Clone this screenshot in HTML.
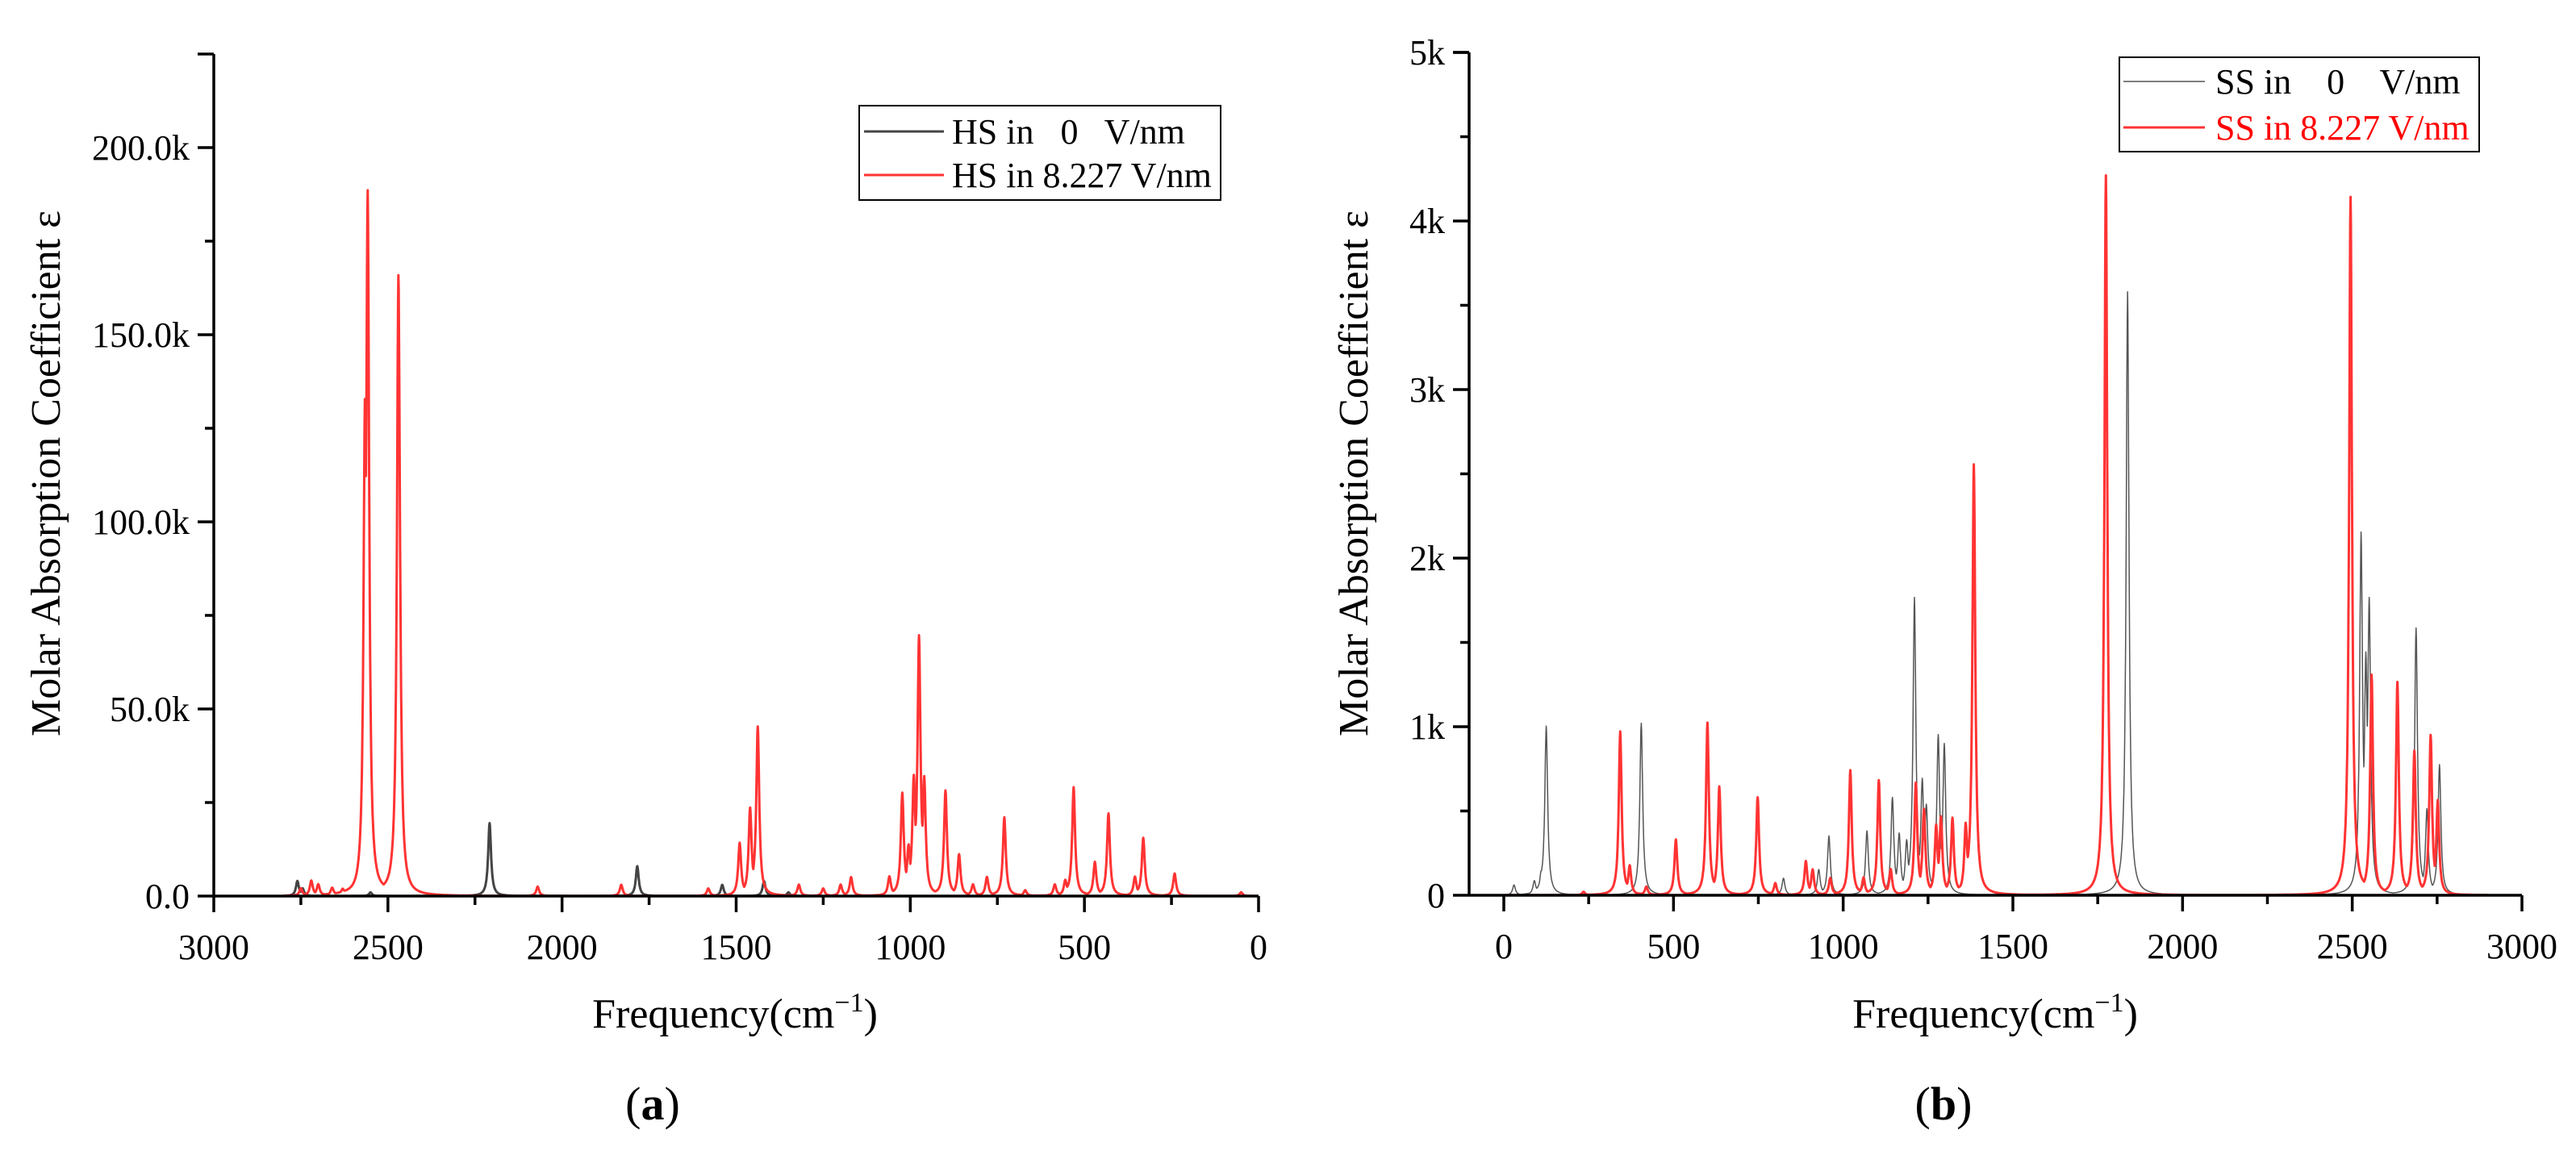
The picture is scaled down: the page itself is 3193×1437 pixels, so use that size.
<!DOCTYPE html>
<html><head><meta charset="utf-8">
<style>
html,body{margin:0;padding:0;background:#fff;}
svg{display:block;font-family:"Liberation Serif",serif;}
text{white-space:pre;}
</style></head>
<body>
<svg id="fig" width="3193" height="1437" viewBox="0 0 3193 1437"></svg>
<script>
// ---- Data: panel (a) HS, peak lists [frequency cm-1], heights in k ----
const hsZeroFreq = [2760, 2745, 2550, 2208, 1784, 1540, 1420, 1350];
const hsZeroHeight = [4, 2, 1, 19.5, 8, 3, 4, 1];
const hsFieldFreq = [2750, 2720, 2700, 2660, 2630, 2566, 2558, 2470, 2466, 2070, 1830, 1580, 1490, 1460, 1438, 1320, 1250, 1200, 1170, 1060, 1023, 1005, 990, 975, 960, 899, 860, 820, 780, 730, 670, 585, 555, 531, 470, 431, 355, 331, 241, 50];
const hsFieldHeight = [2, 4, 3, 2, 1.5, 120, 180, 155, 70, 2.5, 3, 2, 14, 23, 45, 3, 2, 3, 5, 5, 27, 12, 30, 68, 30, 28, 11, 3, 5, 21, 1.5, 3, 4, 29, 9, 22, 5, 15.5, 6, 1];
const hsYTicks = [0, 50, 100, 150, 200];
const hsYLabels = ["0.0", "50.0k", "100.0k", "150.0k", "200.0k"];
const hsXTicks = [3000, 2500, 2000, 1500, 1000, 500, 0];

// ---- Data: panel (b) SS ----
const ssZeroFreq = [30, 90, 110, 125, 405, 748, 824, 928, 958, 1070, 1145, 1165, 1187, 1210, 1233, 1245, 1280, 1298, 1838, 2526, 2540, 2550, 2688, 2720, 2757];
const ssZeroHeight = [0.06, 0.08, 0.12, 1.0, 1.02, 0.55, 0.1, 0.15, 0.35, 0.38, 0.57, 0.35, 0.3, 1.75, 0.65, 0.5, 0.93, 0.88, 3.58, 2.1, 1.3, 1.68, 1.58, 0.5, 0.77];
const ssFieldFreq = [235, 343, 371, 420, 507, 600, 635, 748, 800, 890, 910, 962, 1021, 1060, 1105, 1140, 1214, 1238, 1274, 1288, 1322, 1361, 1385, 1774, 2495, 2557, 2633, 2683, 2731, 2752];
const ssFieldHeight = [0.02, 0.97, 0.17, 0.05, 0.33, 1.02, 0.64, 0.58, 0.07, 0.2, 0.15, 0.1, 0.74, 0.1, 0.68, 0.15, 0.66, 0.5, 0.4, 0.45, 0.45, 0.4, 2.55, 4.27, 4.14, 1.3, 1.26, 0.85, 0.94, 0.55];
const ssYTicks = [0, 1, 2, 3, 4, 5];
const ssYLabels = ["0", "1k", "2k", "3k", "4k", "5k"];
const ssXTicks = [0, 500, 1000, 1500, 2000, 2500, 3000];

const NS = "http://www.w3.org/2000/svg";
const svg = document.getElementById("fig");
function el(tag, attrs, parent) {
  const e = document.createElementNS(NS, tag);
  for (const k in attrs) e.setAttribute(k, attrs[k]);
  (parent || svg).appendChild(e);
  return e;
}
function spectrum(freqs, heights, hw, f) {
  let m = 0, s = 0;
  for (let i = 0; i < freqs.length; i++) {
    const d = (f - freqs[i]) / hw;
    const v = heights[i] / (1 + d * d);
    if (v > m) m = v;
    s += v;
  }
  return m + 0.25 * (s - m);
}

function panel(cfg) {
  const g = el("g", {});
  
  
  const X = v => cfg.x0 + (v - cfg.xv0) / (cfg.xv1 - cfg.xv0) * (cfg.x1 - cfg.x0);
  const Y = v => cfg.y0 - v / cfg.yMax * (cfg.y0 - cfg.y1);
  const series = [
    {f: cfg.zf, h: cfg.zh, c: cfg.zeroColor, w: cfg.zeroW, n: 'series-zero-field'},
    {f: cfg.ff, h: cfg.fh, c: "#ff3333", w: cfg.fieldW, n: 'series-field'}
  ];
  for (const s of series) {
    let pts = [];
    for (let f = cfg.fMin; f <= cfg.fMax; f += 1) {
      pts.push(X(f).toFixed(1) + "," + Y(spectrum(s.f, s.h, cfg.hw, f)).toFixed(1));
    }
    const pl = el("polyline", {points: pts.join(" "), fill: "none", stroke: s.c, "stroke-width": s.w, "stroke-linejoin": "round"}, g);
    
    
  }
  const ax = el("g", {stroke: "#000", "stroke-width": 3.5, fill: "none"}, g);
  
  
  el("line", {x1: cfg.axL, y1: cfg.y0, x2: cfg.axR, y2: cfg.y0}, ax);
  el("line", {x1: cfg.axL, y1: cfg.y0, x2: cfg.axL, y2: cfg.y1}, ax);
  el("line", {x1: cfg.axL - 20, y1: cfg.y1, x2: cfg.axL, y2: cfg.y1}, ax);
  for (let i = 0; i < cfg.xt.length; i++) {
    const v = cfg.xt[i];
    el("line", {x1: X(v), y1: cfg.y0, x2: X(v), y2: cfg.y0 + 20}, ax);
    const t = el("text", {x: X(v), y: cfg.y0 + 78, "text-anchor": "middle", "font-size": 44, fill: "#000"}, g);
    t.textContent = v;
    
    
    if (i < cfg.xt.length - 1) {
      const m = (v + cfg.xt[i + 1]) / 2;
      el("line", {x1: X(m), y1: cfg.y0, x2: X(m), y2: cfg.y0 + 11}, ax);
    }
  }
  for (let i = 0; i < cfg.yt.length; i++) {
    const v = cfg.yt[i];
    el("line", {x1: cfg.axL - 20, y1: Y(v), x2: cfg.axL, y2: Y(v)}, ax);
    const t = el("text", {x: cfg.axL - 30, y: Y(v) + 15, "text-anchor": "end", "font-size": 44, fill: "#000"}, g);
    t.textContent = cfg.yl[i];
    
    
    const m = v + cfg.yMinor;
    if (m < cfg.yMax) el("line", {x1: cfg.axL - 11, y1: Y(m), x2: cfg.axL, y2: Y(m)}, ax);
  }
  const yt = el("text", {x: 0, y: 0, transform: `translate(${cfg.yTitleX},587) rotate(-90)`, "text-anchor": "middle", "font-size": 52, fill: "#000"}, g);
  yt.textContent = "Molar Absorption Coefficient ε";
  
  
  const xt = el("text", {x: cfg.xTitleX, y: 1274, "text-anchor": "middle", "font-size": 52, fill: "#000"}, g);
  xt.innerHTML = 'Frequency(cm<tspan dy="-20" font-size="34">−1</tspan><tspan dy="20">)</tspan>';
  
  
  const cap = el("text", {x: cfg.capX, y: 1388, "text-anchor": "middle", "font-size": 58, fill: "#000"}, g);
  cap.innerHTML = '(<tspan font-weight="bold">' + cfg.cap + '</tspan>)';
  
  
  const lg = el("g", {}, g);
  
  
  const L = cfg.leg;
  el("rect", {x: L.x, y: L.y, width: L.w, height: L.h, fill: "#fff", stroke: "#000", "stroke-width": 2}, lg);
  for (let r = 0; r < 2; r++) {
    const ry = L.rows[r];
    const e1 = el("line", {x1: L.lx1, y1: ry, x2: L.lx2, y2: ry, stroke: r ? "#ff3333" : cfg.zeroColor, "stroke-width": r ? cfg.fieldW : cfg.zeroW}, lg);
    
    
    const tx = el("text", {x: L.tx, y: ry + 15, "font-size": 44, fill: r ? L.redText : "#000"}, lg);
    tx.textContent = L.labels[r];
    
    
  }
}

panel({name: "panel-a-hs", x0: 265, x1: 1560, xv0: 3000, xv1: 0, axL: 265, axR: 1560,
  y0: 1111, y1: 67, yMax: 225, yMinor: 25, fMin: 0, fMax: 2800, hw: 5,
  zf: hsZeroFreq, zh: hsZeroHeight, ff: hsFieldFreq, fh: hsFieldHeight,
  zeroColor: "#444", zeroW: 3, fieldW: 3,
  xt: hsXTicks, yt: hsYTicks, yl: hsYLabels, yTitleX: 74, xTitleX: 911, capX: 809, cap: "a",
  leg: {x: 1065, y: 131, w: 448, h: 117, rows: [163, 217], lx1: 1071, lx2: 1170, tx: 1180, redText: "#000",
        labels: ["HS in   0   V/nm", "HS in 8.227 V/nm"]}});

panel({name: "panel-b-ss", x0: 1864, x1: 3126, xv0: 0, xv1: 3000, axL: 1821, axR: 3126,
  y0: 1110, y1: 65, yMax: 5, yMinor: 0.5, fMin: 0, fMax: 2900, hw: 5,
  zf: ssZeroFreq, zh: ssZeroHeight, ff: ssFieldFreq, fh: ssFieldHeight,
  zeroColor: "#555", zeroW: 1.5, fieldW: 3,
  xt: ssXTicks, yt: ssYTicks, yl: ssYLabels, yTitleX: 1695, xTitleX: 2473, capX: 2409, cap: "b",
  leg: {x: 2627, y: 71, w: 446, h: 117, rows: [101, 158], lx1: 2632, lx2: 2733, tx: 2746, redText: "#ff0000",
        labels: ["SS in    0    V/nm", "SS in 8.227 V/nm"]}});
</script>
</body></html>
